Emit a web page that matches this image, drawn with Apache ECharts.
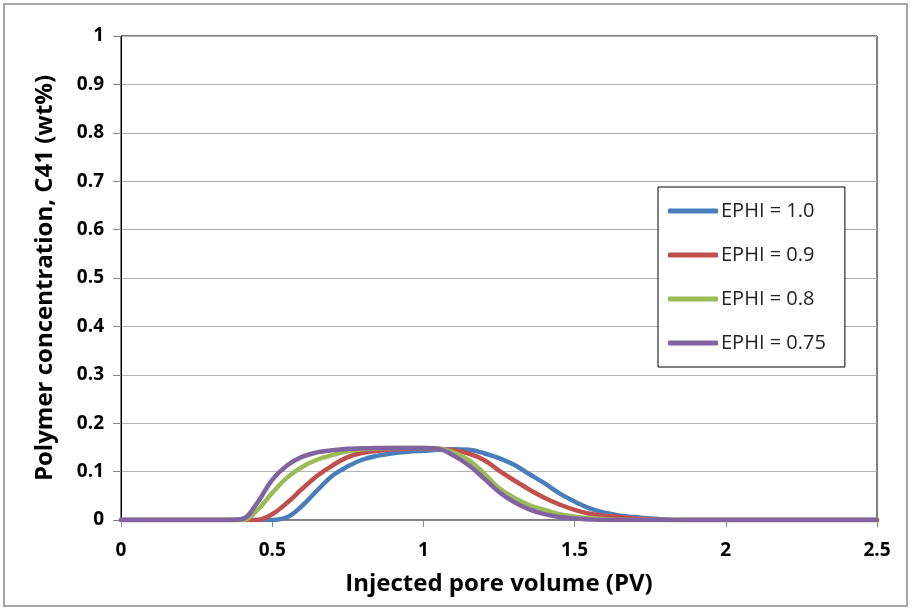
<!DOCTYPE html>
<html>
<head>
<meta charset="utf-8">
<script src="https://cdn.jsdelivr.net/npm/echarts@6/dist/echarts.min.js"></script>
<style>
  html, body { margin: 0; padding: 0; background: #fff; }
  #chart { width: 914px; height: 609px; }
</style>
</head>
<body>
<div id="chart"></div>
<script>
// Injected pore volume (PV) sample points
const pv = [0, 0.35, 0.40, 0.45, 0.50, 0.55, 0.60, 0.65, 0.70, 0.75, 0.80, 0.85, 0.90, 0.95, 1.00,
            1.05, 1.10, 1.15, 1.20, 1.25, 1.30, 1.35, 1.40, 1.45, 1.50, 1.55, 1.60, 1.65, 1.70,
            1.75, 1.80, 1.85, 1.90, 2.5];

// Polymer concentration C41 (wt%) for each EPHI value
const ephi100 = [0, 0, 0, 0, 0, 0.006, 0.030, 0.062, 0.092, 0.111, 0.125, 0.133, 0.138, 0.141, 0.143,
                 0.145, 0.146, 0.145, 0.138, 0.128, 0.114, 0.095, 0.076, 0.055, 0.038, 0.024, 0.015,
                 0.009, 0.006, 0.003, 0.001, 0, 0, 0];
const ephi090 = [0, 0, 0, 0, 0.012, 0.036, 0.065, 0.092, 0.113, 0.130, 0.139, 0.143, 0.146, 0.147, 0.148,
                 0.147, 0.144, 0.137, 0.124, 0.102, 0.082, 0.063, 0.046, 0.032, 0.021, 0.013, 0.009,
                 0.006, 0.003, 0.001, 0, 0, 0, 0];
const ephi080 = [0, 0, 0, 0.020, 0.056, 0.088, 0.110, 0.125, 0.134, 0.142, 0.146, 0.148, 0.149, 0.149, 0.149,
                 0.148, 0.140, 0.124, 0.097, 0.066, 0.046, 0.031, 0.021, 0.012, 0.007, 0.004, 0.002,
                 0, 0, 0, 0, 0, 0, 0];
const ephi075 = [0, 0, 0.002, 0.035, 0.083, 0.113, 0.131, 0.140, 0.144, 0.147, 0.148, 0.149, 0.149, 0.149, 0.149,
                 0.147, 0.133, 0.113, 0.086, 0.058, 0.037, 0.022, 0.012, 0.006, 0.003, 0.001, 0,
                 0, 0, 0, 0, 0, 0, 0];

const seriesNames = ['EPHI = 1.0', 'EPHI = 0.9', 'EPHI = 0.8', 'EPHI = 0.75'];
const seriesData = [ephi100, ephi090, ephi080, ephi075];
const seriesColors = ['#4a7ebb', '#c0504d', '#9bbb59', '#8064a2'];

const font = '"Open Sans", "Liberation Sans", sans-serif';

const chart = echarts.init(document.getElementById('chart'), null, { renderer: 'canvas' });

chart.setOption({
  backgroundColor: '#ffffff',
  animation: false,
  graphic: [{
    type: 'rect',
    shape: { x: 4, y: 4, width: 903, height: 602 },
    style: { fill: 'none', stroke: '#a6a6a6', lineWidth: 2 },
    silent: true
  }],
  grid: {
    left: 121, right: 37, top: 36, bottom: 89,
    show: true, borderColor: '#000', borderWidth: 1, backgroundColor: 'transparent'
  },
  legend: {
    orient: 'vertical',
    left: 658, top: 187,
    icon: 'roundRect',
    itemWidth: 50, itemHeight: 5, itemGap: 24,
    padding: [14, 19, 14, 10],
    borderColor: '#000', borderWidth: 1,
    backgroundColor: '#fff',
    textStyle: { fontFamily: font, fontSize: 20, color: '#222', padding: [0, 0, 0, -2] },
    data: seriesNames
  },
  xAxis: {
    type: 'value', min: 0, max: 2.5, interval: 0.5,
    name: 'Injected pore volume (PV)',
    nameLocation: 'middle', nameGap: 52,
    nameTextStyle: { fontFamily: font, fontSize: 24, fontWeight: 'bold', color: '#000' },
    axisLine: { show: true, onZero: false, lineStyle: { color: '#868686', width: 1 } },
    axisTick: { show: true, inside: false, length: 7, lineStyle: { color: '#868686' } },
    axisLabel: { margin: 21, fontFamily: font, fontSize: 19, fontWeight: 'bold', color: '#000' },
    splitLine: { show: false }
  },
  yAxis: {
    type: 'value', min: 0, max: 1, interval: 0.1,
    name: 'Polymer concentration, C41 (wt%)',
    nameLocation: 'middle', nameGap: 64,
    nameTextStyle: { fontFamily: font, fontSize: 24, fontWeight: 'bold', color: '#000' },
    axisLine: { show: true, lineStyle: { color: '#000', width: 1 } },
    axisTick: { show: true, inside: false, length: 8, lineStyle: { color: '#868686' } },
    axisLabel: { margin: 17, fontFamily: font, fontSize: 19, fontWeight: 'bold', color: '#000' },
    splitLine: { show: true, lineStyle: { color: '#b3b3b3', width: 1 } }
  },
  series: seriesNames.map((name, i) => ({
    name,
    type: 'line',
    data: pv.map((x, k) => [x, seriesData[i][k]]),
    smooth: 0.4,
    symbol: 'none',
    lineStyle: { color: seriesColors[i], width: 4.5, cap: 'round', join: 'round' },
    itemStyle: { color: seriesColors[i] },
    z: 2 + i
  }))
});
</script>
</body>
</html>
